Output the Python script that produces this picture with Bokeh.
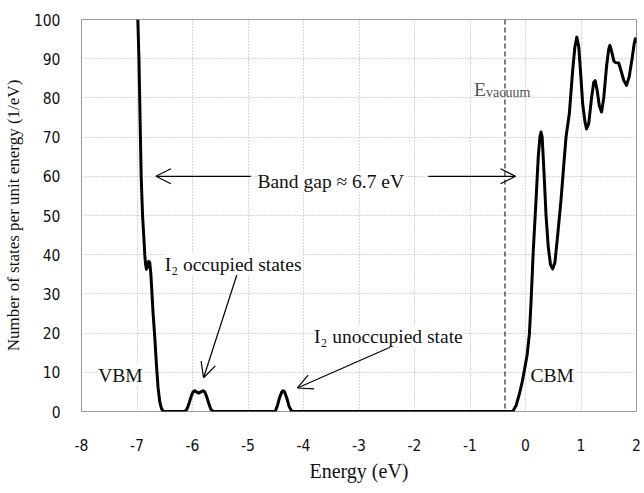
from bokeh.plotting import figure
from bokeh.models import Label, Arrow, OpenHead, FixedTicker, Span
from bokeh.embed import file_html
from bokeh.resources import INLINE

# ---- data ----
energy = [-6.985, -6.965, -6.945, -6.925, -6.90, -6.875, -6.86, -6.845, -6.83, -6.81, -6.79, -6.77,
          -6.75, -6.73, -6.71, -6.68, -6.65, -6.62, -6.59, -6.56, -6.53, -6.50,
          -6.14, -6.10, -6.06, -6.02, -5.99, -5.96, -5.93, -5.89, -5.85, -5.81, -5.78, -5.75,
          -5.71, -5.67, -5.63,
          -4.51, -4.47, -4.43, -4.39, -4.365, -4.34, -4.30, -4.26, -4.21,
          -0.23, -0.17, -0.11, -0.06, -0.02, 0.03, 0.07, 0.10, 0.14, 0.19, 0.23, 0.26, 0.28,
          0.30, 0.33, 0.37, 0.41, 0.45, 0.49, 0.53, 0.58, 0.64, 0.69, 0.73, 0.79, 0.85, 0.89,
          0.925, 0.96, 1.00, 1.03, 1.07, 1.10, 1.14, 1.19, 1.23, 1.255, 1.29, 1.33, 1.37,
          1.41, 1.46, 1.50, 1.52, 1.55, 1.59, 1.62, 1.68, 1.72, 1.77, 1.82, 1.87, 1.92,
          1.96, 1.98, 2.0]
dos = [100, 90, 75, 60, 50, 44, 40, 37.5, 36.3, 37.0, 38.3, 38.0,
       35, 30, 25, 19, 12, 6, 2.5, 0.8, 0.1, 0,
       0, 0.6, 2.2, 4.0, 5.0, 5.3, 5.0, 4.7, 5.0, 5.3, 5.0, 4.0,
       2.2, 0.6, 0,
       0, 1.5, 3.6, 5.0, 5.3, 5.0, 3.4, 1.3, 0,
       0, 1.5, 4.5, 7.5, 10.5, 14.5, 19.8, 28, 41, 54, 65, 70, 71.3,
       70, 62, 50, 42, 37.5, 36.4, 38, 45, 54, 63, 70, 76, 87, 93,
       95.5, 93, 85, 78.5, 74, 72.1, 73.5, 80, 84, 84.4, 82, 78, 76.4,
       80, 88, 92.5, 93.4, 92, 89.5, 89, 88.9, 87, 84.5, 83.2, 85.5, 90,
       94, 95.1, 94]

x_ticks = [-8, -7, -6, -5, -4, -3, -2, -1, 0, 1, 2]
x_tick_labels = ["-8", "-7", "-6", "-5", "-4", "-3", "-2", "-1", "0", "1", "2"]
y_ticks = [0, 10, 20, 30, 40, 50, 60, 70, 80, 90, 100]
e_vacuum = -0.37

band_gap_text = "Band gap \u2248 6.7 eV"
occ_text = "I\u2082 occupied states"
unocc_text = "I\u2082 unoccupied state"

SERIF = "Liberation Serif"
TICKFONT = "DejaVu Sans Condensed"

p = figure(width=644, height=493, x_range=(-8, 2), y_range=(0, 100),
           output_backend="svg", toolbar_location=None,
           min_border_left=78, min_border_right=8, min_border_top=19, min_border_bottom=82)
p.background_fill_color = "white"
p.border_fill_color = "white"
p.outline_line_color = "#9a9a9a"
p.outline_line_width = 1

p.xaxis.ticker = FixedTicker(ticks=x_ticks)
p.yaxis.ticker = FixedTicker(ticks=y_ticks)
p.xaxis.major_label_overrides = {t: s for t, s in zip(x_ticks, x_tick_labels)}
for ax in (p.xaxis[0], p.yaxis[0]):
    ax.axis_line_color = None
    ax.major_tick_line_color = None
    ax.minor_tick_line_color = None
    ax.major_label_text_font = TICKFONT
    ax.major_label_text_font_size = "15.5px"
    ax.major_label_text_color = "#111111"
    ax.axis_label_text_font = SERIF
    ax.axis_label_text_font_style = "normal"
    ax.axis_label_text_color = "#111111"
p.xaxis.major_label_standoff = 21
p.yaxis.major_label_standoff = 15
p.xaxis.axis_label = "Energy (eV)"
p.yaxis.axis_label = "Number of states per unit energy (1/eV)"
p.xaxis.axis_label_text_font_size = "20px"
p.yaxis.axis_label_text_font_size = "17px"
p.xaxis.axis_label_standoff = 6
p.yaxis.axis_label_standoff = 8

for g in (p.xgrid[0], p.ygrid[0]):
    g.grid_line_color = "#b0b0b0"
    g.grid_line_dash = "1 2"
    g.grid_line_width = 1

# vacuum level
p.add_layout(Span(location=e_vacuum, dimension="height", line_color="black",
                  line_dash="5 3", line_width=1))

# DOS curve
p.line(energy, dos, line_color="black", line_width=3, line_join="round")

# arrows
def arrow(x0, y0, x1, y1):
    p.add_layout(Arrow(end=OpenHead(size=15, line_width=1.2, line_color="black"),
                       x_start=x0, y_start=y0, x_end=x1, y_end=y1,
                       line_color="black", line_width=1.2))

arrow(-4.95, 60, -6.66, 60)
arrow(-1.75, 60, -0.18, 60)
arrow(-5.20, 34.9, -5.80, 8.6)
arrow(-2.44, 16.4, -4.11, 6.0)

def label(x, y, text, size="19.5px", color="#111111", bg=True):
    kw = dict(background_fill_color="white") if bg else {}
    p.add_layout(Label(x=x, y=y, text=text, text_font=SERIF, text_font_size=size,
                       text_color=color, text_baseline="alphabetic", **kw))

label(-4.83, 58.7, band_gap_text)
label(-7.70, 9.2, "VBM")
label(0.09, 9.2, "CBM")
label(-6.50, 37.5, occ_text)
label(-3.81, 19.1, unocc_text)
label(-0.93, 82.1, "E", color="#555555", bg=False)
label(-0.71, 81.4, "vacuum", size="14px", color="#555555", bg=False)

open("out.html", "w").write(file_html(p, INLINE))
